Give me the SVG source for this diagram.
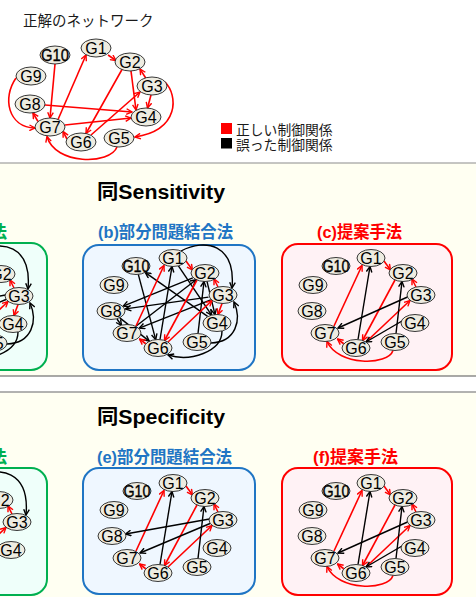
<svg xmlns="http://www.w3.org/2000/svg" width="476" height="597" viewBox="0 0 476 597">
<defs>
<style>
.n ellipse{fill:#eeece1;stroke:#222;stroke-width:0.9}
.n text{font-family:"Liberation Sans",Arial,sans-serif;font-size:16px;text-anchor:middle;fill:#000}
.g10 text{stroke:#000;stroke-width:0.35}
.r{fill:none;stroke:#ff0000;stroke-width:1.6;marker-end:url(#ar)}
.k{fill:none;stroke:#000;stroke-width:1.4;marker-end:url(#ak)}
.jp{font-family:"Noto Sans CJK JP","Liberation Sans",sans-serif;fill:#1a1a1a}
.h{font-family:"Liberation Sans","Noto Sans CJK JP",sans-serif;font-weight:bold}
</style>
<marker id="ar" viewBox="0 0 10 10" refX="9" refY="5" markerWidth="7" markerHeight="7" markerUnits="userSpaceOnUse" orient="auto"><path d="M1,1 L9,5 L1,9" fill="none" stroke="#ff0000" stroke-width="2"/></marker>
<marker id="ak" viewBox="0 0 10 10" refX="9" refY="5" markerWidth="7" markerHeight="7" markerUnits="userSpaceOnUse" orient="auto"><path d="M1,1 L9,5 L1,9" fill="none" stroke="#000" stroke-width="2"/></marker>
</defs>

<rect width="476" height="597" fill="#ffffff"/>
<rect x="0" y="163" width="476" height="213" fill="#fffff2"/>
<line x1="0" y1="163" x2="476" y2="163" stroke="#8c8c8c" stroke-width="1.2"/>
<line x1="0" y1="376" x2="476" y2="376" stroke="#555" stroke-width="1.2"/>
<rect x="0" y="392" width="476" height="205" fill="#fffff2"/>
<line x1="0" y1="392" x2="476" y2="392" stroke="#999" stroke-width="1.5"/>

<!-- Top: correct network -->
<text class="jp" x="23" y="26" font-size="14.5">正解のネットワーク</text>
<g id="legend">
<rect x="221" y="123" width="11" height="11" fill="#ff0000"/>
<text class="jp" x="236" y="134.5" font-size="13.8">正しい制御関係</text>
<rect x="221" y="138" width="11" height="10.5" fill="#000"/>
<text class="jp" x="236" y="149.5" font-size="13.8">誤った制御関係</text>
</g>
<g id="t-edges">
<path class="r" d="M108,55 L116,60.5"/>
<path class="r" d="M55,64 L50,118"/>
<path class="r" d="M58,119.5 L86,55"/>
<path class="r" d="M122,69.5 L86,133.5"/>
<path class="r" d="M131,71 L136,110"/>
<path class="r" d="M146,78.5 L140,69"/>
<path class="r" d="M151,95 L147.5,108"/>
<path class="r" d="M45,105 L132,112"/>
<path class="r" d="M65,125 L131,118"/>
<path class="r" d="M91,135 L140,92"/>
<path class="r" d="M38,121.5 L33,113"/>
<path class="r" d="M67,139 L63,131.5"/>
<path class="r" d="M16,78 C2,98 8,127 35,128"/>
<path class="r" d="M117,147 C110,165 55,165 47,136.5"/>
<path class="r" d="M165,82 C178,95 180,130 135,137"/>
</g>
<g id="t-G1" class="n"><ellipse cx="96" cy="48" rx="15" ry="9"/><text x="96" y="54">G1</text></g>
<g id="t-G10" class="n g10"><ellipse cx="55" cy="55" rx="15" ry="9"/><text x="55" y="61" textLength="28" lengthAdjust="spacingAndGlyphs">G10</text></g>
<g id="t-G2" class="n"><ellipse cx="130" cy="62" rx="15" ry="9"/><text x="130" y="68">G2</text></g>
<g id="t-G9" class="n"><ellipse cx="31" cy="76" rx="15" ry="9"/><text x="31" y="82">G9</text></g>
<g id="t-G3" class="n"><ellipse cx="152" cy="86" rx="15" ry="9"/><text x="152" y="92">G3</text></g>
<g id="t-G8" class="n"><ellipse cx="30" cy="104" rx="15" ry="9"/><text x="30" y="110">G8</text></g>
<g id="t-G4" class="n"><ellipse cx="146" cy="117" rx="15" ry="9"/><text x="146" y="123">G4</text></g>
<g id="t-G7" class="n"><ellipse cx="50" cy="127" rx="15" ry="9"/><text x="50" y="133">G7</text></g>
<g id="t-G6" class="n"><ellipse cx="81" cy="142" rx="15" ry="9"/><text x="81" y="148">G6</text></g>
<g id="t-G5" class="n"><ellipse cx="119" cy="138" rx="15" ry="9"/><text x="119" y="144">G5</text></g>

<!-- Sensitivity section -->
<text class="h" x="97" y="199" font-size="20" fill="#000" textLength="128" lengthAdjust="spacingAndGlyphs">同Sensitivity</text>

<g id="panel-a">
<rect x="-125" y="243" width="172" height="127" rx="16" fill="#effffa" stroke="#00b050" stroke-width="2"/>
<text class="h" x="7" y="237.5" font-size="17" fill="#00b050" text-anchor="end">法</text>
<g transform="translate(-204,1)">
<g id="a-edges">
<path class="k" d="M181,251 C205,238 236,244 232,288"/>
<path class="k" d="M211,343 C236,342 242,320 234,302"/>
<path class="k" d="M222,331 C222,352 190,362 168,355"/>
<path class="k" d="M209.5,294 L125.5,309"/>
<path class="k" d="M210,298.5 L140,328"/>
<path class="r" d="M218,287 L214,279"/>
<path class="r" d="M222,303.5 L218,314.5"/>
<path class="r" d="M168,342 L212,300.5"/>
</g>
<g id="a-G2" class="n"><ellipse cx="205" cy="273" rx="14" ry="8.5"/><text x="205" y="279">G2</text></g>
<g id="a-G3" class="n"><ellipse cx="223" cy="295" rx="14" ry="8.5"/><text x="223" y="301">G3</text></g>
<g id="a-G4" class="n"><ellipse cx="217" cy="323" rx="14" ry="8.5"/><text x="217" y="329">G4</text></g>
<g id="a-G5" class="n"><ellipse cx="197" cy="342" rx="14" ry="8.5"/><text x="197" y="348">G5</text></g>
</g>
</g>

<g id="panel-b">
<rect x="83" y="245" width="172" height="125" rx="16" fill="#eff7ff" stroke="#1f75c4" stroke-width="2"/>
<text class="h" x="98" y="237.5" font-size="17" fill="#1f75c4" textLength="135" lengthAdjust="spacingAndGlyphs">(b)部分問題結合法</text>
<g id="b-edges">
<path class="k" d="M181,251 C205,238 236,244 232,288"/>
<path class="k" d="M211,343 C236,342 242,320 234,302"/>
<path class="k" d="M222,331 C222,352 190,362 168,355"/>
<path class="k" d="M117,319 L121.5,325.5"/>
<path class="k" d="M207.6,316.4 L145.4,272.6"/>
<path class="k" d="M138.3,274.4 L155.7,339.6"/>
<path class="k" d="M160,339.5 L172,266.5"/>
<path class="k" d="M178.4,265.9 L211.6,315.1"/>
<path class="k" d="M192.8,277.9 L123.2,306.1"/>
<path class="k" d="M135.9,326.2 L196.1,279.8"/>
<path class="k" d="M208.5,297.1 L125.5,308.9"/>
<path class="k" d="M210.7,299.9 L139.3,328.1"/>
<path class="k" d="M119.8,317.9 L149.2,341.1"/>
<path class="k" d="M198,333.5 L204,281.5"/>
<path class="k" d="M207,281.4 L215,314.6"/>
<path class="r" d="M136,326 L164,265.5"/>
<path class="r" d="M186,261 L192.5,270"/>
<path class="r" d="M218,287 L214,279"/>
<path class="r" d="M197,280 L164.5,340.5"/>
<path class="r" d="M168,342 L212,300.5"/>
<path class="r" d="M146,344 L139.5,339"/>
<path class="r" d="M222,303.5 L218,314.5"/>
</g>
<g id="b-G1" class="n"><ellipse cx="173" cy="258" rx="14" ry="8.5"/><text x="173" y="264">G1</text></g>
<g id="b-G10" class="n g10"><ellipse cx="136" cy="266" rx="14" ry="8.5"/><text x="136" y="272" textLength="27" lengthAdjust="spacingAndGlyphs">G10</text></g>
<g id="b-G2" class="n"><ellipse cx="205" cy="273" rx="14" ry="8.5"/><text x="205" y="279">G2</text></g>
<g id="b-G9" class="n"><ellipse cx="114" cy="285" rx="14" ry="8.5"/><text x="114" y="291">G9</text></g>
<g id="b-G3" class="n"><ellipse cx="223" cy="295" rx="14" ry="8.5"/><text x="223" y="301">G3</text></g>
<g id="b-G8" class="n"><ellipse cx="111" cy="311" rx="14" ry="8.5"/><text x="111" y="317">G8</text></g>
<g id="b-G4" class="n"><ellipse cx="217" cy="323" rx="14" ry="8.5"/><text x="217" y="329">G4</text></g>
<g id="b-G7" class="n"><ellipse cx="127" cy="333" rx="14" ry="8.5"/><text x="127" y="339">G7</text></g>
<g id="b-G5" class="n"><ellipse cx="197" cy="342" rx="14" ry="8.5"/><text x="197" y="348">G5</text></g>
<g id="b-G6" class="n"><ellipse cx="158" cy="348" rx="14" ry="8.5"/><text x="158" y="354">G6</text></g>
</g>

<g id="panel-c">
<rect x="282" y="244" width="170" height="126" rx="16" fill="#fff2f5" stroke="#ff0000" stroke-width="2"/>
<text class="h" x="317" y="237.5" font-size="17" fill="#ff0000" textLength="85" lengthAdjust="spacingAndGlyphs">(c)提案手法</text>
<g transform="translate(198,0)">
<g id="c-edges">
<path class="r" d="M136,326 L164,265.5"/>
<path class="r" d="M186,261 L192.5,270"/>
<path class="r" d="M218,287 L214,279"/>
<path class="r" d="M197,280 L164.5,340.5"/>
<path class="r" d="M168,342 L212,300.5"/>
<path class="r" d="M146,344 L139.5,339"/>
<path class="r" d="M195,350.5 C190,366 140,366 129,341.5"/>
<path class="k" d="M160,339.5 L172,266.5"/>
<path class="k" d="M198,333.5 L204,281.5"/>
<path class="k" d="M209.5,297 L140,328"/>
<path class="k" d="M204,321 L168,342"/>
</g>
<g id="c-G1" class="n"><ellipse cx="173" cy="258" rx="14" ry="8.5"/><text x="173" y="264">G1</text></g>
<g id="c-G10" class="n g10"><ellipse cx="138" cy="266" rx="14" ry="8.5"/><text x="138" y="272" textLength="27" lengthAdjust="spacingAndGlyphs">G10</text></g>
<g id="c-G2" class="n"><ellipse cx="205" cy="273" rx="14" ry="8.5"/><text x="205" y="279">G2</text></g>
<g id="c-G9" class="n"><ellipse cx="115" cy="285" rx="14" ry="8.5"/><text x="115" y="291">G9</text></g>
<g id="c-G3" class="n"><ellipse cx="223" cy="295" rx="14" ry="8.5"/><text x="223" y="301">G3</text></g>
<g id="c-G8" class="n"><ellipse cx="114" cy="311" rx="14" ry="8.5"/><text x="114" y="317">G8</text></g>
<g id="c-G4" class="n"><ellipse cx="217" cy="323" rx="14" ry="8.5"/><text x="217" y="329">G4</text></g>
<g id="c-G7" class="n"><ellipse cx="127" cy="333" rx="14" ry="8.5"/><text x="127" y="339">G7</text></g>
<g id="c-G5" class="n"><ellipse cx="197" cy="342" rx="14" ry="8.5"/><text x="197" y="348">G5</text></g>
<g id="c-G6" class="n"><ellipse cx="158" cy="348" rx="14" ry="8.5"/><text x="158" y="354">G6</text></g>
</g>
</g>

<!-- Specificity section -->
<text class="h" x="97" y="424" font-size="20" fill="#000" textLength="128" lengthAdjust="spacingAndGlyphs">同Specificity</text>

<g id="panel-d">
<rect x="-125" y="468" width="172" height="127" rx="16" fill="#effffa" stroke="#00b050" stroke-width="2"/>
<text class="h" x="7" y="463" font-size="17" fill="#00b050" text-anchor="end">法</text>
<g transform="translate(-206,227)">
<g id="d-edges">
<path class="k" d="M181,251 C205,238 236,244 232,288"/>
<path class="r" d="M218,287 L214,279"/>
<path class="r" d="M168,342 L212,300.5"/>
</g>
<g id="d-G2" class="n"><ellipse cx="205" cy="273" rx="14" ry="8.5"/><text x="205" y="279">G2</text></g>
<g id="d-G3" class="n"><ellipse cx="223" cy="295" rx="14" ry="8.5"/><text x="223" y="301">G3</text></g>
<g id="d-G4" class="n"><ellipse cx="217" cy="323" rx="14" ry="8.5"/><text x="217" y="329">G4</text></g>
</g>
</g>

<g id="panel-e">
<rect x="83" y="468" width="172" height="126" rx="16" fill="#eff7ff" stroke="#1f75c4" stroke-width="2"/>
<text class="h" x="97" y="463" font-size="17" fill="#1f75c4" textLength="135" lengthAdjust="spacingAndGlyphs">(e)部分問題結合法</text>
<g transform="translate(0,225)">
<g id="e-edges">
<path class="r" d="M136,326 L164,265.5"/>
<path class="r" d="M186,261 L192.5,270"/>
<path class="r" d="M218,287 L214,279"/>
<path class="r" d="M197,280 L164.5,340.5"/>
<path class="r" d="M168,342 L212,300.5"/>
<path class="r" d="M146,344 L139.5,339"/>
<path class="k" d="M160,339.5 L172,266.5"/>
<path class="k" d="M198,333.5 L204,281.5"/>
<path class="k" d="M209.5,294 L125.5,309"/>
<path class="k" d="M210,298.5 L140,328"/>
</g>
<g id="e-G1" class="n"><ellipse cx="173" cy="258" rx="14" ry="8.5"/><text x="173" y="264">G1</text></g>
<g id="e-G10" class="n g10"><ellipse cx="137" cy="266" rx="14" ry="8.5"/><text x="137" y="272" textLength="27" lengthAdjust="spacingAndGlyphs">G10</text></g>
<g id="e-G2" class="n"><ellipse cx="205" cy="273" rx="14" ry="8.5"/><text x="205" y="279">G2</text></g>
<g id="e-G9" class="n"><ellipse cx="114" cy="285" rx="14" ry="8.5"/><text x="114" y="291">G9</text></g>
<g id="e-G3" class="n"><ellipse cx="223" cy="295" rx="14" ry="8.5"/><text x="223" y="301">G3</text></g>
<g id="e-G8" class="n"><ellipse cx="112" cy="311" rx="14" ry="8.5"/><text x="112" y="317">G8</text></g>
<g id="e-G4" class="n"><ellipse cx="217" cy="323" rx="14" ry="8.5"/><text x="217" y="329">G4</text></g>
<g id="e-G7" class="n"><ellipse cx="127" cy="333" rx="14" ry="8.5"/><text x="127" y="339">G7</text></g>
<g id="e-G5" class="n"><ellipse cx="197" cy="342" rx="14" ry="8.5"/><text x="197" y="348">G5</text></g>
<g id="e-G6" class="n"><ellipse cx="158" cy="348" rx="14" ry="8.5"/><text x="158" y="354">G6</text></g>
</g>
</g>

<g id="panel-f">
<rect x="282" y="468" width="170" height="127" rx="16" fill="#fff2f5" stroke="#ff0000" stroke-width="2"/>
<text class="h" x="313" y="463" font-size="17" fill="#ff0000" textLength="85" lengthAdjust="spacingAndGlyphs">(f)提案手法</text>
<g transform="translate(198,225)">
<g id="f-edges">
<path class="r" d="M136,326 L164,265.5"/>
<path class="r" d="M186,261 L192.5,270"/>
<path class="r" d="M218,287 L214,279"/>
<path class="r" d="M197,280 L164.5,340.5"/>
<path class="r" d="M168,342 L212,300.5"/>
<path class="r" d="M146,344 L139.5,339"/>
<path class="r" d="M195,350.5 C190,366 140,366 129,341.5"/>
<path class="k" d="M160,339.5 L172,266.5"/>
<path class="k" d="M198,333.5 L204,281.5"/>
<path class="k" d="M209.5,297 L140,328"/>
<path class="k" d="M204,321 L168,342"/>
</g>
<g id="f-G1" class="n"><ellipse cx="173" cy="258" rx="14" ry="8.5"/><text x="173" y="264">G1</text></g>
<g id="f-G10" class="n g10"><ellipse cx="138" cy="266" rx="14" ry="8.5"/><text x="138" y="272" textLength="27" lengthAdjust="spacingAndGlyphs">G10</text></g>
<g id="f-G2" class="n"><ellipse cx="205" cy="273" rx="14" ry="8.5"/><text x="205" y="279">G2</text></g>
<g id="f-G9" class="n"><ellipse cx="115" cy="285" rx="14" ry="8.5"/><text x="115" y="291">G9</text></g>
<g id="f-G3" class="n"><ellipse cx="223" cy="295" rx="14" ry="8.5"/><text x="223" y="301">G3</text></g>
<g id="f-G8" class="n"><ellipse cx="114" cy="311" rx="14" ry="8.5"/><text x="114" y="317">G8</text></g>
<g id="f-G4" class="n"><ellipse cx="217" cy="323" rx="14" ry="8.5"/><text x="217" y="329">G4</text></g>
<g id="f-G7" class="n"><ellipse cx="127" cy="333" rx="14" ry="8.5"/><text x="127" y="339">G7</text></g>
<g id="f-G5" class="n"><ellipse cx="197" cy="342" rx="14" ry="8.5"/><text x="197" y="348">G5</text></g>
<g id="f-G6" class="n"><ellipse cx="158" cy="348" rx="14" ry="8.5"/><text x="158" y="354">G6</text></g>
</g>
</g>
</svg>
